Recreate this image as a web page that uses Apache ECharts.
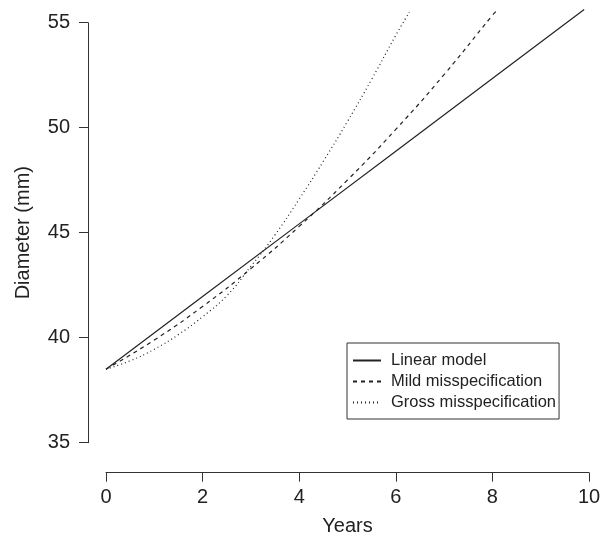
<!DOCTYPE html>
<html>
<head>
<meta charset="utf-8">
<script src="https://cdn.jsdelivr.net/npm/echarts@6/dist/echarts.min.js"></script>
<style>
  html, body { margin: 0; padding: 0; background: #fff; }
  #chart { width: 601px; height: 538px; }
</style>
</head>
<body>
<div id="chart"></div>
<script>
// values
const linearYears = [0, 2, 4, 6, 8, 9.9];
const linearDiam  = [38.5, 41.96, 45.42, 48.88, 52.34, 55.63];

const mildYears = [0, 1, 2, 3, 4, 5, 6, 7, 8, 8.08];
const mildDiam  = [38.5, 39.89, 41.49, 43.29, 45.3, 47.51, 49.92, 52.53, 55.35, 55.55];

const grossYears = [0, 0.5, 1, 1.5, 2, 2.5, 3, 3.5, 4, 4.5, 5, 5.5, 6, 6.28];
const grossDiam  = [38.5, 38.9, 39.45, 40.15, 41.0, 42.0, 43.4, 44.9, 46.6, 48.4, 50.3, 52.3, 54.4, 55.5];

const xTicks = [0, 10, 2];   // min, max, step
const yTicks = [35, 55, 5];

const ink = "#222";
const axisInk = "#333";
const font = "Liberation Sans, Arial, sans-serif";

function pairs(xs, ys) {
  return xs.map((x, i) => [x, ys[i]]);
}

const chart = echarts.init(document.getElementById("chart"), null, {renderer: "canvas"});

chart.setOption({
  animation: false,
  backgroundColor: "#fff",
  textStyle: {fontFamily: font},
  grid: {left: 106, right: 12, top: 22.7, bottom: 95.3, outerBoundsMode: "none", containLabel: false},
  xAxis: {
    type: "value",
    min: xTicks[0], max: xTicks[1], interval: xTicks[2],
    offset: 30,
    name: "Years",
    nameLocation: "middle",
    nameGap: 44,
    nameTextStyle: {color: ink, fontSize: 20, fontFamily: font},
    axisLine: {show: true, onZero: false, lineStyle: {color: axisInk, width: 1}},
    axisTick: {show: true, length: 9, lineStyle: {color: axisInk}},
    axisLabel: {color: ink, fontSize: 20, margin: 15, fontFamily: font},
    splitLine: {show: false},
  },
  yAxis: {
    type: "value",
    min: yTicks[0], max: yTicks[1], interval: yTicks[2],
    offset: 18,
    name: "Diameter (mm)",
    nameLocation: "middle",
    nameGap: 55,
    nameRotate: 90,
    nameTextStyle: {color: ink, fontSize: 20, fontFamily: font},
    axisLine: {show: true, onZero: false, lineStyle: {color: axisInk, width: 1}},
    axisTick: {show: true, length: 9, lineStyle: {color: axisInk}},
    axisLabel: {color: ink, fontSize: 20, margin: 18, fontFamily: font},
    splitLine: {show: false},
  },
  legend: {
    left: 347, top: 343,
    orient: "vertical",
    itemWidth: 28, itemHeight: 14, itemGap: 4,
    padding: [9, 3, 8, 5],
    borderColor: axisInk, borderWidth: 1, borderRadius: 0,
    itemStyle: {opacity: 0},
    textStyle: {color: ink, fontSize: 16.5, padding: [0, 0, 0, 5], fontFamily: font},
    data: ["Linear model", "Mild misspecification", "Gross misspecification"],
  },
  series: [
    {
      name: "Linear model", type: "line", symbol: "none", clip: false,
      data: pairs(linearYears, linearDiam),
      lineStyle: {color: ink, width: 1.2, type: "solid"},
      itemStyle: {color: ink},
    },
    {
      name: "Mild misspecification", type: "line", symbol: "none", clip: false, smooth: true,
      data: pairs(mildYears, mildDiam),
      lineStyle: {color: ink, width: 1.2, type: [4, 4]},
      itemStyle: {color: ink},
    },
    {
      name: "Gross misspecification", type: "line", symbol: "none", clip: false, smooth: true,
      data: pairs(grossYears, grossDiam),
      lineStyle: {color: ink, width: 1.2, type: [1, 3]},
      itemStyle: {color: ink},
    },
  ],
});
</script>
</body>
</html>
